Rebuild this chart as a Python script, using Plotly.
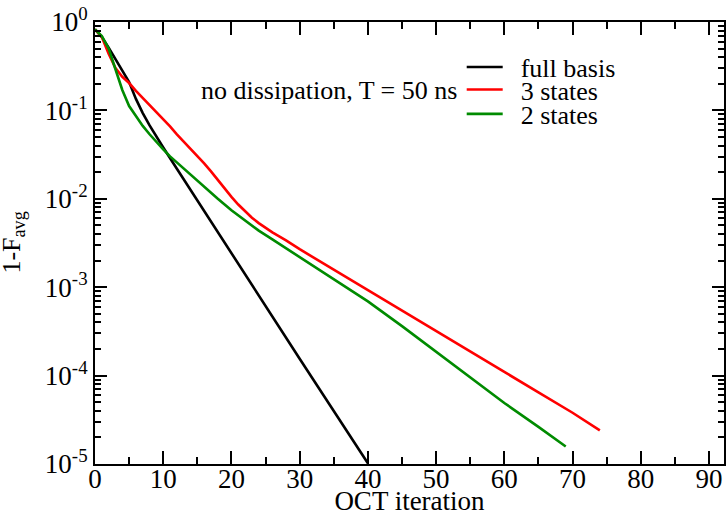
import plotly.graph_objects as go

# OCT convergence: infidelity 1 - F_avg vs. iteration for three model sizes
iter_full = [0, 1, 2, 3, 4, 5, 6, 7, 8, 9, 10, 12, 15, 20, 25, 30, 35, 40]
err_full = [0.826, 0.676, 0.513, 0.380, 0.288, 0.209, 0.135, 0.0933, 0.0676, 0.0501,
            0.0380, 0.0219, 0.00955, 0.00240, 6.03e-4, 1.55e-4, 3.98e-5, 1.02e-5]

iter_3 = [0, 1, 2, 3, 4, 5, 6, 7, 8, 9, 10, 11, 12, 13, 14, 15, 16, 17, 18, 19,
          20, 21, 22, 23, 24, 25, 26, 27, 28, 30, 33, 35, 40, 45, 50, 55, 60,
          65, 70, 74]
err_3 = [0.826, 0.676, 0.437, 0.302, 0.240, 0.204, 0.166, 0.138, 0.117, 0.0955,
         0.0794, 0.0661, 0.0537, 0.0447, 0.0372, 0.0309, 0.0251, 0.0204, 0.0162,
         0.0129, 0.0105, 0.00861, 0.00716, 0.00610, 0.00531, 0.00468, 0.00417,
         0.00376, 0.00339, 0.00269, 0.00195, 0.00158, 9.33e-4, 5.37e-4, 3.16e-4,
         1.86e-4, 1.10e-4, 6.46e-5, 3.80e-5, 2.40e-5]

iter_2 = [0, 1, 2, 3, 4, 5, 6, 7, 8, 9, 10, 11, 12, 13, 14, 15, 16, 18, 20, 22,
          24, 26, 28, 30, 33, 35, 40, 45, 50, 55, 60, 65, 69]
err_2 = [0.826, 0.692, 0.501, 0.295, 0.170, 0.112, 0.0851, 0.0668, 0.0537, 0.0437,
         0.0363, 0.0302, 0.0257, 0.0219, 0.0186, 0.0158, 0.0138, 0.0100, 0.00741,
         0.00562, 0.00437, 0.00347, 0.00275, 0.00219, 0.00155, 0.00123, 6.92e-4,
         3.63e-4, 1.86e-4, 9.55e-5, 4.90e-5, 2.63e-5, 1.58e-5]

series = [
    ("full basis", iter_full, err_full, "#000000", "legend"),
    ("3 states", iter_3, err_3, "#ff0000", "legend2"),
    ("2 states", iter_2, err_2, "#008b00", "legend3"),
]

x_ticks = [0, 10, 20, 30, 40, 50, 60, 70, 80, 90]
y_ticks = [1, 1e-1, 1e-2, 1e-3, 1e-4, 1e-5]
y_ticktext = ["10<sup>0</sup>", "10<sup>-1</sup>", "10<sup>-2</sup>",
              "10<sup>-3</sup>", "10<sup>-4</sup>", "10<sup>-5</sup>"]

FONT = "Liberation Serif"

fig = go.Figure()
for name, xs, ys, color, leg in series:
    fig.add_trace(go.Scatter(
        x=xs, y=ys, mode="lines", name="\u2002" + name,
        line=dict(color=color, width=2.6),
        legend=leg,
    ))

# one legend box per entry so the rows sit close together
legend_rows = {"legend": 0.898, "legend2": 0.847, "legend3": 0.792}
legend_style = {}
for key, ypos in legend_rows.items():
    legend_style[key] = dict(
        x=0.583, y=ypos, xanchor="left", yanchor="middle",
        font=dict(family=FONT, size=26, color="#000"),
        bgcolor="rgba(0,0,0,0)", borderwidth=0, itemwidth=36,
    )

minor_y = [m * 10.0 ** e for e in range(-5, 0) for m in range(2, 10)]

fig.update_layout(
    width=726, height=516,
    margin=dict(l=95, r=2, t=22, b=52),
    paper_bgcolor="white", plot_bgcolor="white",
    font=dict(family=FONT, color="#000"),
    showlegend=True,
    **legend_style,
    annotations=[
        dict(
            text="no dissipation, T = 50 ns", xref="paper", yref="paper",
            x=0.5785, y=0.844, xanchor="right", yanchor="middle",
            showarrow=False, font=dict(family=FONT, size=26, color="#000"),
        ),
        # vertical axis label
        dict(
            text="1-F<sub>avg</sub>", xref="paper", yref="paper",
            x=-0.131, y=0.5, xanchor="center", yanchor="middle", textangle=-90,
            showarrow=False, font=dict(family=FONT, size=26, color="#000"),
        ),
    ],
)

fig.update_xaxes(
    range=[0, 92.2], tickvals=x_ticks, ticks="inside", ticklen=13, tickwidth=1.5,
    tickcolor="#000", showline=True, linecolor="#000", linewidth=2,
    mirror="allticks", showgrid=False, zeroline=False,
    tickfont=dict(family=FONT, size=27, color="#000"),
    ticklabelstandoff=-10,
    minor=dict(dtick=5, ticks="inside", ticklen=7, tickwidth=1.5, tickcolor="#000",
               showgrid=False),
    title=dict(text="OCT iteration", font=dict(family=FONT, size=27, color="#000"),
               standoff=4),
    automargin=False,
)
fig.update_yaxes(
    type="log", range=[-5, 0], tickvals=y_ticks, ticktext=y_ticktext,
    ticks="inside", ticklen=12, tickwidth=1.5, tickcolor="#000",
    showline=True, linecolor="#000", linewidth=2, mirror="allticks",
    showgrid=False, zeroline=False,
    tickfont=dict(family=FONT, size=27, color="#000"),
    minor=dict(tickvals=minor_y, ticks="inside", ticklen=6, tickwidth=1.5,
               tickcolor="#000", showgrid=False),
    automargin=False,
)

fig.write_html("out.html")
